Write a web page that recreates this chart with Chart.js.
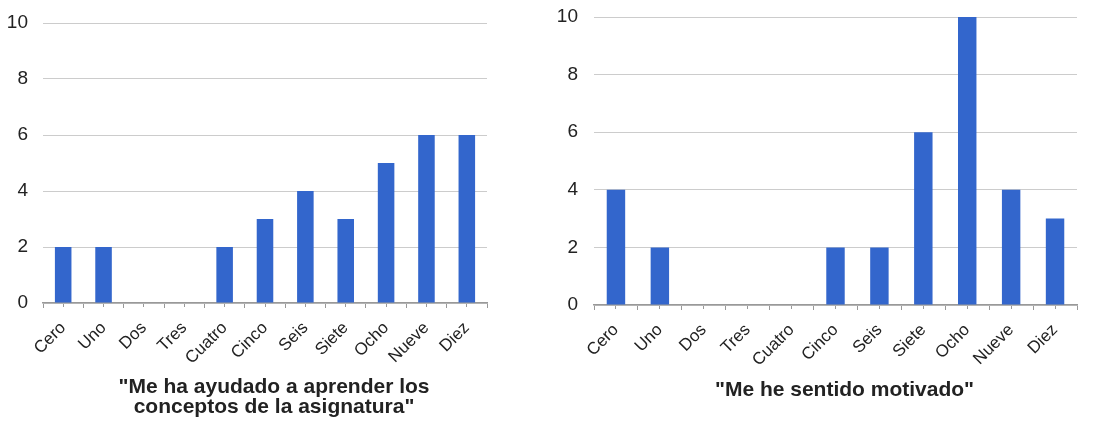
<!DOCTYPE html>
<html>
<head>
<meta charset="utf-8">
<script src="https://cdn.jsdelivr.net/npm/chart.js@4/dist/chart.umd.min.js"></script>
<style>
  html, body { margin: 0; padding: 0; background: #fff; overflow: hidden; }
  #wrap { position: relative; width: 1095px; height: 423px; }
  canvas { position: absolute; top: 0; }
  #c1 { left: 0; }
  #c2 { left: 555px; }
</style>
</head>
<body>
<div id="wrap">
  <canvas id="c1" width="545" height="423"></canvas>
  <canvas id="c2" width="540" height="423"></canvas>
</div>
<script>
const categories = ["Cero", "Uno", "Dos", "Tres", "Cuatro", "Cinco", "Seis", "Siete", "Ocho", "Nueve", "Diez"];
const valuesAprender = [2, 2, 0, 0, 2, 3, 4, 3, 5, 6, 6];
const valuesMotivado = [4, 2, 0, 0, 0, 2, 2, 6, 10, 4, 3];
const yTicks = [0, 2, 4, 6, 8, 10];
const titleAprender = ['"Me ha ayudado a aprender los', 'conceptos de la asignatura"'];
const titleMotivado = ['"Me he sentido motivado"'];

const FONT = '"Liberation Sans", Arial, Helvetica, sans-serif';

const bottomTitle = {
  id: 'bottomTitle',
  afterDraw(chart, args, opts) {
    const ctx = chart.ctx;
    ctx.save();
    ctx.font = 'bold 21px ' + FONT;
    ctx.fillStyle = '#222222';
    ctx.textAlign = 'center';
    ctx.textBaseline = 'alphabetic';
    opts.lines.forEach((t, i) => ctx.fillText(t, opts.x, opts.y + i * opts.lineHeight));
    ctx.restore();
  }
};

function makeChart(id, values, cfg) {
  return new Chart(document.getElementById(id), {
    type: 'bar',
    data: {
      labels: categories,
      datasets: [{
        data: values,
        backgroundColor: '#3366CC',
        borderWidth: 0,
        barPercentage: cfg.barPct,
        categoryPercentage: 1.0,
        xAxisID: 'x',
        yAxisID: 'y'
      }]
    },
    plugins: [bottomTitle],
    options: {
      responsive: false,
      animation: false,
      events: [],
      layout: { padding: { left: 0, right: cfg.padRight, top: cfg.padTop, bottom: 0 } },
      plugins: {
        legend: { display: false },
        tooltip: { enabled: false },
        title: { display: false },
        bottomTitle: { lines: cfg.title, x: cfg.titleX, y: cfg.titleY, lineHeight: 20 }
      },
      scales: {
        x: {
          type: 'category',
          position: 'bottom',
          offset: true,
          afterFit: (s) => { s.height = cfg.xHeight; s.paddingLeft = 0; s.paddingRight = 0; s.paddingTop = 0; s.paddingBottom = 0; },
          border: { display: true, color: '#999999', width: 1.5 },
          grid: { offset: true, drawOnChartArea: false, drawTicks: true, tickLength: 5, color: '#999999', lineWidth: 1 },
          ticks: {
            color: '#222222',
            font: { family: FONT, size: 17 },
            maxRotation: 45,
            minRotation: 45,
            autoSkip: false,
            padding: 10
          }
        },
        xc: {
          type: 'category',
          axis: 'x',
          position: { y: 0 },
          offset: true,
          afterFit: (s) => { s.height = 0; s.paddingLeft = 0; s.paddingRight = 0; },
          ticks: { display: false },
          border: { display: false },
          grid: { offset: false, drawOnChartArea: false, drawTicks: true, tickLength: 4, color: '#999999', lineWidth: 1 }
        },
        y: {
          min: 0,
          max: 10,
          afterFit: (s) => { s.width = cfg.yWidth; s.paddingTop = 0; s.paddingBottom = 0; },
          afterBuildTicks: (s) => { s.ticks = yTicks.map(v => ({ value: v })); },
          border: { display: false },
          grid: { color: '#cccccc', lineWidth: 1, drawTicks: false },
          ticks: {
            color: '#222222',
            font: { family: FONT, size: 19 },
            padding: cfg.yPad
          }
        }
      }
    }
  });
}

makeChart('c1', valuesAprender, {
  barPct: 0.41, padRight: 545 - 487, padTop: 23, xHeight: 423 - 303, yWidth: 43, yPad: 15,
  title: titleAprender, titleX: 274, titleY: 392.5
});
makeChart('c2', valuesMotivado, {
  barPct: 0.42, padRight: 540 - 522, padTop: 17, xHeight: 423 - 305, yWidth: 39, yPad: 16,
  title: titleMotivado, titleX: 844.5 - 555, titleY: 396
});
</script>
</body>
</html>
